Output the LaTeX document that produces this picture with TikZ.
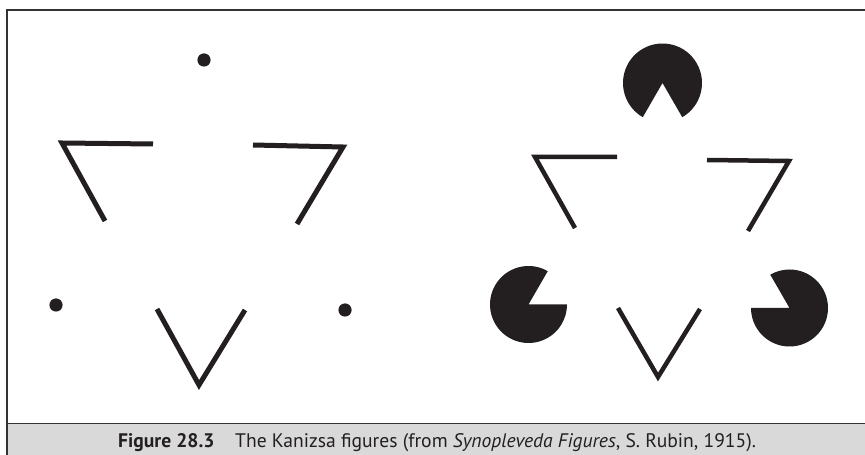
\documentclass[tikz,border=0pt]{standalone}
\usepackage{fontspec}
\setmainfont{PT Sans}
\definecolor{ink}{HTML}{231F20}
\definecolor{band}{HTML}{D9D9D9}
\definecolor{framec}{HTML}{333333}
\begin{document}
\begin{tikzpicture}[x=1pt,y=1pt,
  kline/.style={draw=ink,line width=5pt,line join=miter,miter limit=10},
  kline2/.style={draw=ink,line width=4.5pt,line join=miter,miter limit=10},
  dotf/.style={fill=ink},
  pac/.style={fill=ink},
  captext/.style={inner sep=0pt,anchor=base west,text=ink,font=\fontsize{19.6}{22}\selectfont}]
\useasboundingbox (0,0) rectangle (865,455);
% caption band and frame
\fill[band] (7,0) rectangle (865,31.5);
\draw[framec,line width=1.5pt] (865,31.5) -- (7,31.5);
\draw[framec,line width=1.5pt] (7,0) -- (7,445) -- (865,445);
% left figure: dots
\fill[dotf] (204,395) circle[radius=6.6];
\fill[dotf] (56,150) circle[radius=6.6];
\fill[dotf] (345,145) circle[radius=6.6];
% left figure: lines
\draw[kline] (153,311) -- (62,312) -- (105,234);
\draw[kline] (253,310) -- (343,308) -- (297,231);
\draw[kline] (157,146) -- (199,70) -- (245,145);
% right figure: pacmen
\fill[pac] (662.5,372) -- ++(-60:39.5) arc[start angle=-60,end angle=240,radius=39.5] -- cycle;
\fill[pac] (528.5,150.5) -- ++(60:38.5) arc[start angle=60,end angle=360,radius=38.5] -- cycle;
\fill[pac] (789.5,147) -- ++(180:38.5) arc[start angle=180,end angle=480,radius=38.5] -- cycle;
% right figure: lines
\draw[kline2] (617,298) -- (535,298) -- (575,227);
\draw[kline2] (707,295) -- (789,294) -- (748,224);
\draw[kline2] (618,147) -- (658,78) -- (700,146);
% caption
\node[captext] (fig) at (118,7) {\textbf{Figure 28.3}};
\node[captext] (txt) at (235,7) {The Kanizsa figures (from \textit{Synopleveda Figures}, S. Rubin, 1915).};
\end{tikzpicture}
\end{document}
